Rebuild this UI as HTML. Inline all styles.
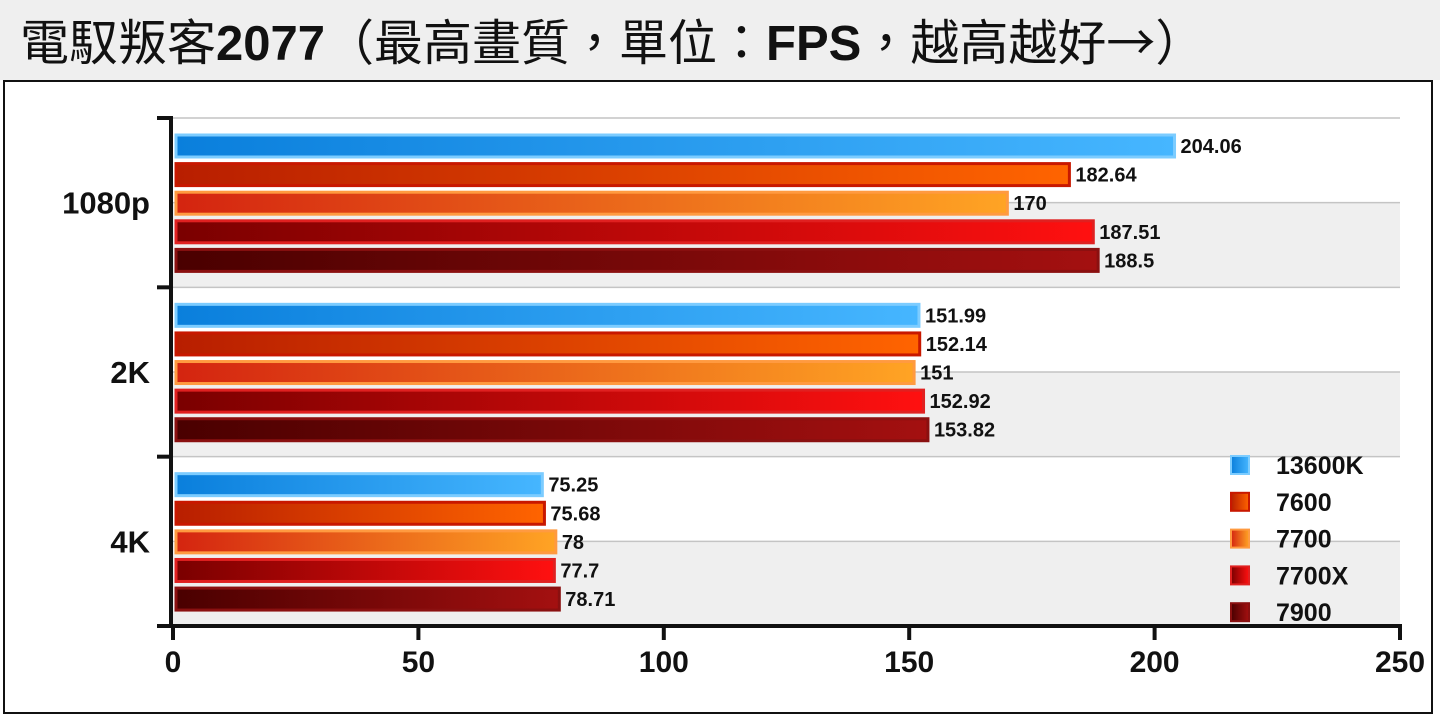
<!DOCTYPE html>
<html><head><meta charset="utf-8"><style>
body{margin:0;width:1440px;height:720px;background:#fff;overflow:hidden;font-family:"Liberation Sans","Noto Sans CJK TC",sans-serif}
#title{position:absolute;left:0;top:0;width:1440px;height:80px;background:#efefef;font-size:49px;line-height:80px;padding-left:20px;box-sizing:border-box;color:#111;white-space:nowrap}
#title b{font-weight:bold}
#frame{position:absolute;left:3px;top:80px;width:1430px;height:634px;border:2px solid #111;box-sizing:border-box}
svg{position:absolute;left:0;top:0}
</style></head><body>
<div id="title">電馭叛客<b>2077</b>（最高畫質，單位：<b>FPS</b>，越高越好<span style="font-family:'Noto Sans CJK TC',sans-serif">→</span>）</div>
<div id="frame"></div>
<svg id="chart" width="1440" height="720">
<defs>
<linearGradient id="g0"><stop offset="0" stop-color="#0a7fdc"/><stop offset="1" stop-color="#46b6ff"/></linearGradient>
<linearGradient id="g1"><stop offset="0" stop-color="#b81e00"/><stop offset="1" stop-color="#ff6400"/></linearGradient>
<linearGradient id="g2"><stop offset="0" stop-color="#d42410"/><stop offset="1" stop-color="#ffa424"/></linearGradient>
<linearGradient id="g3"><stop offset="0" stop-color="#7a0000"/><stop offset="1" stop-color="#ff1010"/></linearGradient>
<linearGradient id="g4"><stop offset="0" stop-color="#4a0000"/><stop offset="1" stop-color="#a41010"/></linearGradient>
</defs>
</svg>
<script>
const categories=["1080p","2K","4K"];
const seriesNames=["13600K","7600","7700","7700X","7900"];
const s13600K=[204.06,151.99,75.25];
const s7600=[182.64,152.14,75.68];
const s7700=[170,151,78];
const s7700X=[187.51,152.92,77.7];
const s7900=[188.5,153.82,78.71];
const xTicks=[0,50,100,150,200,250];
const series=[s13600K,s7600,s7700,s7700X,s7900];
const borders=["#7cccff","#c81800","#ff9a40","#e02020","#8a1010"];
const NS="http://www.w3.org/2000/svg";
const svg=document.getElementById('chart');
const X0=173,X1=1400,Y0=118,Y1=626,xmax=250;
const x=v=>X0+(X1-X0)*v/xmax;
const gh=(Y1-Y0)/categories.length;
function mk(t,a){const e=document.createElementNS(NS,t);for(const k in a)e.setAttribute(k,a[k]);svg.appendChild(e);return e;}
categories.forEach((c,i)=>{
 const top=Y0+i*gh;
 const band=mk('rect',{x:X0,y:top+gh/2,width:X1-X0,height:gh/2,fill:'#efefef'});
 
 
 [top,top+gh/2].forEach(y=>{const l=mk('line',{x1:X0,x2:X1,y1:y,y2:y,stroke:'#c4c4c4','stroke-width':1.5});
 
 });
});
categories.forEach((c,i)=>{
 const top=Y0+i*gh;
 series.forEach((s,j)=>{
  const yc=top+28+j*28.6;
  const r=mk('rect',{x:X0+3,y:yc-11,width:x(s[i])-X0-3,height:22,fill:'url(#g'+j+')',stroke:borders[j],'stroke-width':3});
  
  
  const t=mk('text',{x:x(s[i])+6,y:yc+7,'font-size':20,'font-weight':'bold',fill:'#111'});
  t.textContent=s[i];
  
  
 });
 const lb=mk('text',{x:150,y:top+gh/2+11,'font-size':31,'font-weight':'bold','text-anchor':'end',fill:'#111'});
 lb.textContent=c;
 
 
});
for(let i=0;i<=categories.length;i++){const y=Y0+i*gh;const t=mk('line',{x1:157,x2:173,y1:y,y2:y,stroke:'#111','stroke-width':4});
 
 }
const ya=mk('line',{x1:171,x2:171,y1:Y0-2,y2:Y1+2,stroke:'#111','stroke-width':4});


const xa=mk('line',{x1:169,x2:X1+2,y1:Y1,y2:Y1,stroke:'#111','stroke-width':4});


xTicks.forEach(v=>{
 const tk=mk('line',{x1:x(v),x2:x(v),y1:Y1,y2:Y1+14,stroke:'#111','stroke-width':4});
 
 
 const t=mk('text',{x:x(v),y:672,'font-size':30,'font-weight':'bold','text-anchor':'middle',fill:'#111'});
 t.textContent=v;
 
 
});
seriesNames.forEach((n,j)=>{
 const y=465+j*36.8;
 const r=mk('rect',{x:1231,y:y-9,width:18,height:18,fill:'url(#g'+j+')',stroke:borders[j],'stroke-width':2});
 
 
 const t=mk('text',{x:1276,y:y+9,'font-size':25,'font-weight':'bold',fill:'#111'});
 t.textContent=n;
 
 
});
</script>
</body></html>
